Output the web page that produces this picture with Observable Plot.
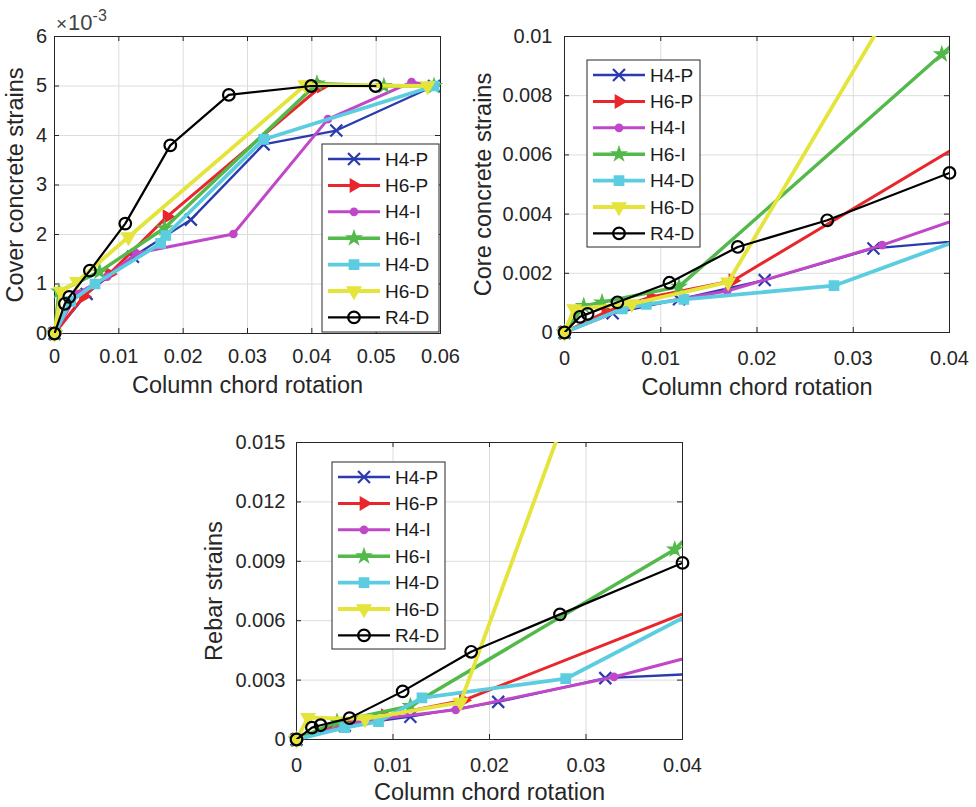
<!DOCTYPE html>
<html><head><meta charset="utf-8">
<script src="https://cdn.jsdelivr.net/npm/d3@7"></script>
<script src="https://cdn.jsdelivr.net/npm/@observablehq/plot@0.6"></script>
<style>
body{margin:0;background:#fff;}
#root{position:relative;width:976px;height:807px;overflow:hidden;background:#fff;font-family:"Liberation Sans",Arial,sans-serif;}
.panel{position:absolute;}
</style></head><body><div id="root"></div>
<script>
// ---------- series ----------
const series = ["H4-P","H6-P","H4-I","H6-I","H4-D","H6-D","R4-D"];

// ---------- panel 1: cover concrete strains (x10^-3) ----------
const coverH4P = [[0,0],[0.005,0.8],[0.0122,1.55],[0.0212,2.3],[0.0325,3.82],[0.0438,4.1],[0.059,5.0]];
const coverH6P = [[0,0],[0.0045,0.75],[0.0085,1.2],[0.0175,2.36],[0.0415,5.0]];
const coverH4I = [[0,0],[0.0035,0.8],[0.0082,1.15],[0.0127,1.62],[0.0278,2.01],[0.0425,4.33],[0.0555,5.08],[0.059,5.0]];
const coverH6I = [[0,0],[0.0007,0.85],[0.007,1.25],[0.0171,2.13],[0.0408,5.05],[0.0512,5.0],[0.059,5.0]];
const coverH4D = [[0,0],[0.0025,0.65],[0.0063,1.0],[0.0165,1.82],[0.0173,1.98],[0.0325,3.92],[0.059,5.0]];
const coverH6D = [[0,0],[0.001,0.85],[0.0035,1.05],[0.0115,1.95],[0.039,5.02],[0.058,5.0]];
const coverR4D = [[0,0],[0.0016,0.6],[0.0023,0.74],[0.0055,1.27],[0.011,2.22],[0.018,3.8],[0.0271,4.82],[0.0399,5.0],[0.0499,5.0]];

// ---------- panel 2: core concrete strains ----------
const coreH4P = [[0,0],[0.005,0.00065],[0.0119,0.00112],[0.0208,0.00177],[0.0321,0.00284],[0.045,0.0032]];
const coreH6P = [[0,0],[0.0043,0.0007],[0.009,0.0012],[0.0175,0.00175],[0.045,0.0071]];
const coreH4I = [[0,0],[0.0062,0.0008],[0.0169,0.0014],[0.033,0.00295],[0.045,0.0043]];
const coreH6I = [[0,0],[0.002,0.0009],[0.0039,0.00102],[0.0119,0.00155],[0.0392,0.0094],[0.045,0.0111]];
const coreH4D = [[0,0],[0.006,0.0008],[0.0085,0.00095],[0.0124,0.00112],[0.028,0.00158],[0.045,0.0036]];
const coreH6D = [[0,0],[0.001,0.0008],[0.007,0.00097],[0.017,0.0017],[0.04,0.0143]];
const coreR4D = [[0,0],[0.0016,0.00053],[0.0024,0.00063],[0.0055,0.00102],[0.0109,0.00168],[0.018,0.00289],[0.0273,0.00379],[0.04,0.00539]];

// ---------- panel 3: rebar strains ----------
const rebarH4P = [[0,0],[0.005,0.0007],[0.0118,0.00115],[0.0209,0.0019],[0.032,0.0031],[0.045,0.0034]];
const rebarH6P = [[0,0],[0.0045,0.0008],[0.0092,0.0012],[0.0173,0.00198],[0.045,0.0073]];
const rebarH4I = [[0,0],[0.0062,0.0009],[0.0165,0.0015],[0.0329,0.00316],[0.045,0.0047]];
const rebarH6I = [[0,0],[0.0042,0.0009],[0.0118,0.0017],[0.0392,0.0096],[0.045,0.0124]];
const rebarH4D = [[0,0],[0.005,0.0006],[0.0085,0.0009],[0.013,0.0021],[0.0279,0.00307],[0.045,0.0074]];
const rebarH6D = [[0,0],[0.0012,0.0011],[0.0071,0.00104],[0.017,0.00188],[0.04,0.0325]];
const rebarR4D = [[0,0],[0.0016,0.0006],[0.0025,0.00072],[0.0055,0.00108],[0.011,0.00243],[0.0181,0.00443],[0.0273,0.00632],[0.04,0.00892]];

// ---------- ticks & labels ----------
const coverXTicks = [0,0.01,0.02,0.03,0.04,0.05,0.06];
const coverYTicks = [0,1,2,3,4,5,6];
const coreXTicks = [0,0.01,0.02,0.03,0.04];
const coreYTicks = [0,0.002,0.004,0.006,0.008,0.01];
const rebarXTicks = [0,0.01,0.02,0.03,0.04];
const rebarYTicks = [0,0.003,0.006,0.009,0.012,0.015];
const xTitle = "Column chord rotation";
const coverTitle = "Cover concrete strains";
const coreTitle = "Core concrete strains";
const rebarTitle = "Rebar strains";

// ---------- styles ----------
const colors = ["#2b3bae","#e8262c","#c047c8","#52b94a","#5ccde0","#e4e43a","#000000"];
const symbols = ["times","triangle","circle","star","square","triangle","circle"];
const rotations = [0,90,0,0,0,180,0];
const radii = [5.5,4.6,3.6,4.2,5.2,5,5.8];
const lineWidths = [2.3,3,3,3.5,3.8,3.8,2.2];
const markerStroke = [2.2,1.5,1.5,1.5,1.5,1.5,2.2];
const filled = [false,true,true,true,true,true,false];
const ink = "#262626";
const gridColor = "#dcdcdc";

const root = document.getElementById("root");

function chart(cfg) {
  const {left, top, width, height, ml, mr, mt, mb, xDomain, yDomain, xTicks, yTicks,
         xFmt, yFmt, data, yLabel, yLabelDx, xLabelDy, xPad, yPad, legend} = cfg;
  const pw = width - ml - mr, ph = height - mt - mb;
  const marks = [
    Plot.gridX(xTicks, {stroke: gridColor, strokeOpacity: 1}),
    Plot.gridY(yTicks, {stroke: gridColor, strokeOpacity: 1}),
    Plot.frame({stroke: ink, strokeWidth: 1}),
    Plot.ruleX(xTicks, {x: d => d, insetTop: ph - 5, stroke: ink}),
    Plot.ruleX(xTicks, {x: d => d, insetBottom: ph - 5, stroke: ink}),
    Plot.ruleY(yTicks, {y: d => d, insetRight: pw - 5, stroke: ink}),
    Plot.ruleY(yTicks, {y: d => d, insetLeft: pw - 5, stroke: ink}),
    Plot.axisX(xTicks, {anchor: "bottom", tickSize: 0, tickPadding: xPad, tickFormat: xFmt, fontSize: 20, label: null}),
    Plot.axisY(yTicks, {anchor: "left", tickSize: 0, tickPadding: yPad, tickFormat: yFmt, fontSize: 20, label: null}),
    Plot.text([xTitle], {text: d => d, frameAnchor: "bottom", textAnchor: "middle", dy: xLabelDy, fontSize: 23.5, lineAnchor: "middle", fill: ink}),
    Plot.text([yLabel], {text: d => d, frameAnchor: "left", textAnchor: "middle", dx: yLabelDx, rotate: -90, fontSize: 23.5, lineAnchor: "middle", fill: ink})
  ];
  for (let i = 0; i < series.length; i++) {
    const pts = data[i].map(([x, y]) => ({x, y}));
    marks.push(Plot.line(pts, {x: "x", y: "y", stroke: colors[i], strokeWidth: lineWidths[i], clip: true}));
    const inside = pts.filter(p => p.x >= xDomain[0] && p.x <= xDomain[1] && p.y >= yDomain[0] && p.y <= yDomain[1]);
    marks.push(Plot.dot(inside, {x: "x", y: "y", symbol: symbols[i], r: radii[i], stroke: colors[i],
      strokeWidth: markerStroke[i], fill: filled[i] ? colors[i] : "none", rotate: rotations[i]}));
  }
  const svg = Plot.plot({
    width, height, marginLeft: ml, marginRight: mr, marginTop: mt, marginBottom: mb,
    x: {domain: xDomain},
    y: {domain: yDomain},
    style: {fontFamily: '"Liberation Sans", Arial, sans-serif', color: ink, background: "transparent", overflow: "visible"},
    marks
  });
  // legend
  const g = d3.select(svg).append("g").attr("text-anchor", "start");
  g.append("rect").attr("x", legend.x).attr("y", legend.y).attr("width", legend.w).attr("height", legend.h)
    .attr("fill", "#fff").attr("stroke", ink).attr("stroke-width", 1);
  series.forEach((name, i) => {
    const cy = legend.y + 15 + i * 26.4;
    g.append("line").attr("x1", legend.x + 6).attr("x2", legend.x + 58).attr("y1", cy).attr("y2", cy)
      .attr("stroke", colors[i]).attr("stroke-width", lineWidths[i]);
    const sym = {times: d3.symbolTimes, triangle: d3.symbolTriangle, circle: d3.symbolCircle, star: d3.symbolStar, square: d3.symbolSquare}[symbols[i]];
    g.append("path").attr("d", d3.symbol(sym, radii[i] * radii[i] * Math.PI)())
      .attr("transform", `translate(${legend.x + 32},${cy}) rotate(${rotations[i]})`)
      .attr("fill", filled[i] ? colors[i] : "none").attr("stroke", colors[i]).attr("stroke-width", markerStroke[i]);
    g.append("text").attr("x", legend.x + 63).attr("y", cy).attr("dy", "0.35em")
      .attr("text-anchor", "start").attr("font-size", 19).attr("fill", "#1a1a1a").text(name);
  });
  const div = document.createElement("div");
  div.className = "panel";
  div.style.left = left + "px";
  div.style.top = top + "px";
  div.appendChild(svg);
  root.appendChild(div);
  return svg;
}

const fmt = d => String(d);

const svg1 = chart({
  left: 0, top: 0, width: 470, height: 400, ml: 54, mr: 30, mt: 36, mb: 67,
  xDomain: [0, 0.06], yDomain: [0, 6], xTicks: coverXTicks, yTicks: coverYTicks,
  xFmt: fmt, yFmt: fmt,
  data: [coverH4P, coverH6P, coverH4I, coverH6I, coverH4D, coverH6D, coverR4D],
  yLabel: coverTitle, yLabelDx: -39, xLabelDy: 52, xPad: 15, yPad: 7.5,
  legend: {x: 322, y: 144, w: 117, h: 188}
});
// exponent label
const ex = d3.select(svg1).append("text").attr("x", 56).attr("y", 30).attr("text-anchor", "start")
  .attr("fill", "#444").style("font-size", "22px");
ex.append("tspan").style("font-size", "19px").text("\u00d7");
ex.append("tspan").attr("dx", 1).text("10");
ex.append("tspan").style("font-size", "16px").attr("dy", -9).text("-3");

chart({
  left: 470, top: 0, width: 506, height: 400, ml: 94, mr: 27, mt: 36, mb: 68,
  xDomain: [0, 0.04], yDomain: [0, 0.01], xTicks: coreXTicks, yTicks: coreYTicks,
  xFmt: fmt, yFmt: fmt,
  data: [coreH4P, coreH6P, coreH4I, coreH6I, coreH4D, coreH6D, coreR4D],
  yLabel: coreTitle, yLabelDx: -81, xLabelDy: 55, xPad: 18, yPad: 12,
  legend: {x: 117, y: 60, w: 113, h: 187}
});

chart({
  left: 180, top: 410, width: 540, height: 397, ml: 116, mr: 38, mt: 32, mb: 68,
  xDomain: [0, 0.04], yDomain: [0, 0.015], xTicks: rebarXTicks, yTicks: rebarYTicks,
  xFmt: fmt, yFmt: fmt,
  data: [rebarH4P, rebarH6P, rebarH4I, rebarH6I, rebarH4D, rebarH6D, rebarR4D],
  yLabel: rebarTitle, yLabelDx: -82, xLabelDy: 52.5, xPad: 18, yPad: 11,
  legend: {x: 152, y: 52, w: 113, h: 187}
});
</script></body></html>
